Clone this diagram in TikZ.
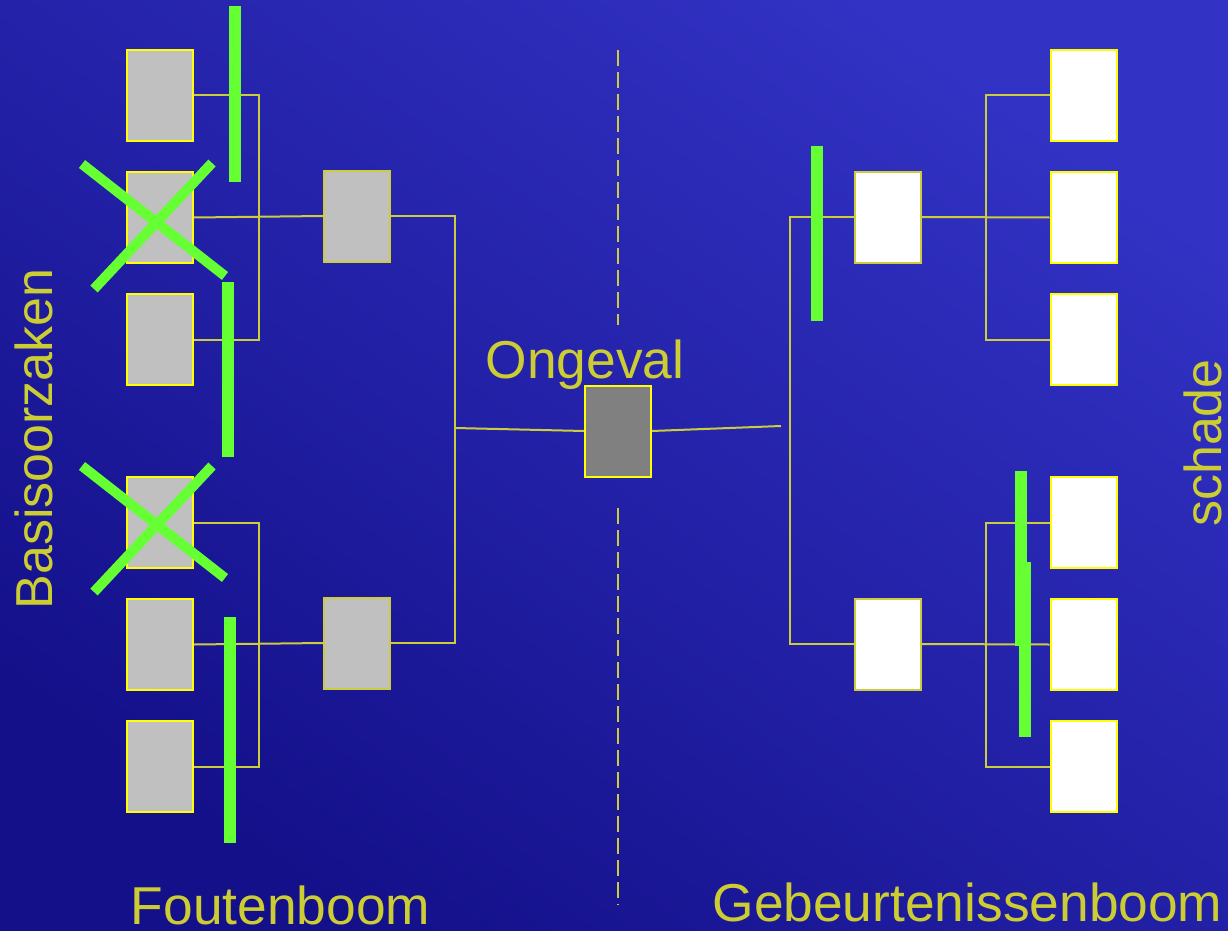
\documentclass[tikz,border=0pt]{standalone}
\usepackage{fontspec}
\setmainfont{Liberation Sans}
\definecolor{bgdark}{RGB}{20,16,138}
\definecolor{bglight}{RGB}{50,50,196}
\definecolor{txtyel}{RGB}{204,204,51}
\definecolor{lineyel}{RGB}{204,204,60}
\definecolor{boxyel}{RGB}{255,255,0}
\definecolor{grn}{RGB}{102,255,51}
\definecolor{lgray}{RGB}{192,192,192}
\definecolor{dgray}{RGB}{128,128,128}
\begin{document}
\begin{tikzpicture}[x=0.75pt,y=-0.75pt,
  basebox/.style={rectangle,minimum width=49.5pt,minimum height=68.25pt,inner sep=0pt,line width=1.5pt},
  graybox/.style={basebox,fill=lgray,draw=boxyel},
  midbox/.style={basebox,fill=lgray,draw=lineyel},
  whitebox/.style={basebox,fill=white,draw=boxyel},
  wmidbox/.style={basebox,fill=white,draw=lineyel},
  accbox/.style={basebox,fill=dgray,draw=boxyel},
  conn/.style={draw=lineyel,line width=1.5pt},
  divider/.style={draw=lineyel,line width=1.5pt,dash pattern=on 12pt off 4.5pt},
  bar/.style={draw=grn,line width=9pt},
  crossline/.style={draw=grn,line width=7.5pt},
  lbl/.style={text=txtyel,font=\fontsize{40}{46}\selectfont,inner sep=0pt,anchor=base}]
\useasboundingbox (0,0) rectangle (1228,931);
\shade[top color=bglight,bottom color=bgdark,shading angle=-35] (0,0) rectangle (1228,931);

% dashed divider
\coordinate (d1) at (618,50);
\coordinate (d2) at (618,325);
\coordinate (d3) at (618,508);
\coordinate (d4) at (618,905);
\draw[divider] (d1) -- (d2);
\draw[divider] (d3) -- (d4);

% boxes
\node[graybox] (l1) at (160,95.5) {};
\node[graybox] (l2) at (160,217.5) {};
\node[graybox] (l3) at (160,339.5) {};
\node[graybox] (l4) at (160,522.5) {};
\node[graybox] (l5) at (160,644.5) {};
\node[graybox] (l6) at (160,766.5) {};
\node[midbox] (m1) at (357,216) {};
\node[midbox] (m2) at (357,643) {};
\node[accbox] (acc) at (618,431) {};
\node[wmidbox] (r1) at (888,217) {};
\node[wmidbox] (r2) at (888,644) {};
\node[whitebox] (f1) at (1083.5,95.5) {};
\node[whitebox] (f2) at (1083.5,217.5) {};
\node[whitebox] (f3) at (1083.5,339.5) {};
\node[whitebox] (f4) at (1083.5,522.5) {};
\node[whitebox] (f5) at (1083.5,644.5) {};
\node[whitebox] (f6) at (1083.5,766.5) {};

% junctions
\coordinate (jt) at (259,217);
\coordinate (jb) at (259,644);
\coordinate (jc) at (455,428);
\coordinate (re) at (781,426);
\coordinate (jr) at (790,428);
\coordinate (jrt) at (986,217);
\coordinate (jrb) at (986,644);

% connectors
\draw[conn] (l1.east) -| (jt);
\draw[conn] (l3.east) -| (jt);
\draw[conn] (l2.east) -- (m1.west);
\draw[conn] (l4.east) -| (jb);
\draw[conn] (l6.east) -| (jb);
\draw[conn] (l5.east) -- (m2.west);
\draw[conn] (m1.east) -| (jc);
\draw[conn] (m2.east) -| (jc);
\draw[conn] (jc) -- (acc.west);
\draw[conn] (acc.east) -- (re);
\draw[conn] (r1.west) -| (jr);
\draw[conn] (r2.west) -| (jr);
\draw[conn] (r1.east) -- (f2.west);
\draw[conn] (f1.west) -| (jrt);
\draw[conn] (f3.west) -| (jrt);
\draw[conn] (r2.east) -- (f5.west);
\draw[conn] (f4.west) -| (jrb);
\draw[conn] (f6.west) -| (jrb);

% green bars
\coordinate (g1a) at (234.5,6);   \coordinate (g1b) at (234.5,182);
\coordinate (g2a) at (228,282);   \coordinate (g2b) at (228,457);
\coordinate (g3a) at (230,617);   \coordinate (g3b) at (230,843);
\coordinate (g4a) at (817,146);   \coordinate (g4b) at (817,321);
\coordinate (g5a) at (1021,471);  \coordinate (g5b) at (1021,646);
\coordinate (g6a) at (1025,562);  \coordinate (g6b) at (1025,737);
\draw[bar] (g1a) -- (g1b);
\draw[bar] (g2a) -- (g2b);
\draw[bar] (g3a) -- (g3b);
\draw[bar] (g4a) -- (g4b);
\draw[bar] (g5a) -- (g5b);
\draw[bar] (g6a) -- (g6b);

% crosses
\coordinate (c1a) at (82,164);  \coordinate (c1b) at (225,276);
\coordinate (c1c) at (212,163); \coordinate (c1d) at (94,289);
\coordinate (c2a) at (82,466);  \coordinate (c2b) at (225,578);
\coordinate (c2c) at (212,466); \coordinate (c2d) at (94,592);
\draw[crossline] (c1a) -- (c1b);
\draw[crossline] (c1c) -- (c1d);
\draw[crossline] (c2a) -- (c2b);
\draw[crossline] (c2c) -- (c2d);

% labels
\node[lbl] (tacc) at (585,378) {Ongeval};
\node[lbl] (tfout) at (280.5,924) {Foutenboom};
\node[lbl] (tgeb) at (967.5,921) {Gebeurtenissenboom};
\node[lbl,rotate=90,font=\fontsize{39}{45}\selectfont] (tbas) at (52,439) {Basisoorzaken};
\node[lbl,rotate=90,font=\fontsize{39}{45}\selectfont] (tsch) at (1221,443) {schade};
\end{tikzpicture}
\end{document}
